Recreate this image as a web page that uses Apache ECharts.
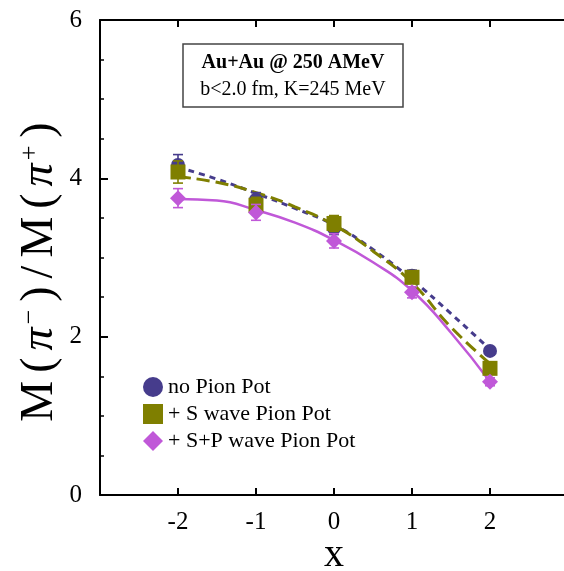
<!DOCTYPE html>
<html>
<head>
<meta charset="utf-8">
<script src="https://cdn.jsdelivr.net/npm/echarts@6/dist/echarts.min.js"></script>
<style>html,body{margin:0;padding:0;background:#fff}#c{width:564px;height:571px}</style>
</head>
<body>
<div id="c"></div>
<script>
// ---- data ----
const xs = [-2, -1, 0, 1, 2];
const noPot = [4.17, 3.73, 3.37, 2.77, 1.82];
const noPotErr = [0.13, 0.09, 0.08, 0.07, 0.05];
const sWave = [4.08, 3.66, 3.43, 2.75, 1.60];
const sWaveErr = [0.14, 0.10, 0.10, 0.08, 0.05];
const spWave = [3.75, 3.57, 3.21, 2.56, 1.43];
const spWaveErr = [0.12, 0.10, 0.09, 0.07, 0.05];

const fitX = [-2, -1.5, -1, -0.5, 0, 0.5, 1, 1.5, 2];
const noPotFit = [4.14, 3.99, 3.81, 3.62, 3.41, 3.10, 2.72, 2.29, 1.84];
const sWaveFit = [4.02, 3.95, 3.82, 3.64, 3.41, 3.08, 2.68, 2.12, 1.66];
const spWaveFit = [3.74, 3.72, 3.60, 3.44, 3.22, 2.94, 2.58, 2.05, 1.43];

const xTicks = [-2, -1, 0, 1, 2];
const yTicks = [0, 2, 4, 6];
const names = ['no Pion Pot', '+ S wave Pion Pot', '+ S+P wave Pion Pot'];

const C1 = '#463c8c', C2 = '#7f7f00', C3 = '#c058d8';
const SERIF = '"Liberation Serif", "DejaVu Serif", serif';

function pairs(x, y) { return x.map((v, i) => [v, y[i]]); }
function errData(x, y, e) { return x.map((v, i) => [v, y[i], e[i]]); }

function errSeries(data, color, z) {
  return {
    type: 'custom', silent: true, z: z,
    encode: { x: 0, y: 1 },
    data: data,
    renderItem: function (params, api) {
      const x = api.value(0), y = api.value(1), e = api.value(2);
      const t = api.coord([x, y + e]), b = api.coord([x, y - e]);
      const hw = 5, st = { stroke: color, lineWidth: 1.6 };
      return {
        type: 'group', children: [
          { type: 'line', shape: { x1: t[0], y1: t[1], x2: b[0], y2: b[1] }, style: st },
          { type: 'line', shape: { x1: t[0] - hw, y1: t[1], x2: t[0] + hw, y2: t[1] }, style: st },
          { type: 'line', shape: { x1: b[0] - hw, y1: b[1], x2: b[0] + hw, y2: b[1] }, style: st }
        ]
      };
    }
  };
}

const chart = echarts.init(document.getElementById('c'), null, { renderer: 'canvas' });
const axisLineStyle = { color: '#000', width: 2 };
const YFS = 46;

chart.setOption({
  animation: false,
  backgroundColor: '#fff',
  textStyle: { fontFamily: SERIF },
  grid: { left: 100, top: 20, width: 468, height: 475, containLabel: false, outerBoundsMode: 'none' },
  legend: {
    orient: 'vertical', left: 138, top: 371,
    itemWidth: 20, itemHeight: 20, itemGap: 5,
    textStyle: { fontFamily: SERIF, fontSize: 22, color: '#000' },
    data: [
      { name: names[0], icon: 'circle' },
      { name: names[1], icon: 'rect' },
      { name: names[2], icon: 'diamond' }
    ]
  },
  xAxis: [{
    type: 'value', min: -3, max: 3, interval: 1,
    axisLine: { onZero: false, lineStyle: axisLineStyle },
    axisTick: { inside: true, length: 7, lineStyle: { color: '#000', width: 2 } },
    axisLabel: {
      margin: 15, fontSize: 25, color: '#000', fontFamily: SERIF,
      formatter: v => (xTicks.indexOf(v) >= 0 ? String(v) : '')
    },
    splitLine: { show: false },
    name: 'x', nameLocation: 'middle', nameGap: 40, nameMoveOverlap: false,
    nameTextStyle: { fontSize: 40, color: '#000', fontFamily: SERIF }
  }, {
    type: 'value', position: 'top', min: -3, max: 3, interval: 1,
    axisLine: { onZero: false, lineStyle: axisLineStyle },
    axisTick: { inside: true, length: 7, lineStyle: { color: '#000', width: 2 } },
    axisLabel: { show: false }, splitLine: { show: false }
  }],
  yAxis: [{
    type: 'value', min: 0, max: 6, interval: 2,
    axisLine: { show: true, onZero: false, lineStyle: axisLineStyle },
    axisTick: { inside: true, length: 8, lineStyle: { color: '#000', width: 2 } },
    minorTick: { show: true, splitNumber: 4, length: 4, lineStyle: { color: '#000', width: 1.5 } },
    axisLabel: {
      margin: 18, fontSize: 25, color: '#000', fontFamily: SERIF,
      formatter: v => (yTicks.indexOf(v) >= 0 ? String(v) : '')
    },
    splitLine: { show: false }
  }, {
    type: 'value', position: 'right', min: 0, max: 6, interval: 2,
    axisLine: { show: true, onZero: false, lineStyle: axisLineStyle },
    axisTick: { show: false },
    axisLabel: { show: false }, splitLine: { show: false }
  }],
  series: [
    { type: 'line', silent: true, data: pairs(fitX, noPotFit), smooth: true, showSymbol: false, z: 2,
      lineStyle: { color: C1, width: 3, type: [6, 5] } },
    { type: 'line', silent: true, data: pairs(fitX, sWaveFit), smooth: true, showSymbol: false, z: 2,
      lineStyle: { color: C2, width: 3, type: [13, 6] } },
    { type: 'line', silent: true, data: pairs(fitX, spWaveFit), smooth: true, showSymbol: false, z: 2,
      lineStyle: { color: C3, width: 2.5 } },
    errSeries(errData(xs, noPot, noPotErr), C1, 3),
    { name: names[0], type: 'scatter', data: pairs(xs, noPot), symbol: 'circle', symbolSize: 14, z: 4,
      itemStyle: { color: C1, opacity: 1 } },
    errSeries(errData(xs, sWave, sWaveErr), C2, 5),
    { name: names[1], type: 'scatter', data: pairs(xs, sWave), symbol: 'rect', symbolSize: 15, z: 6,
      itemStyle: { color: C2, opacity: 1 } },
    errSeries(errData(xs, spWave, spWaveErr), C3, 7),
    { name: names[2], type: 'scatter', data: pairs(xs, spWave), symbol: 'diamond', symbolSize: [16, 16], z: 8,
      itemStyle: { color: C3, opacity: 1 } }
  ],
  graphic: [
    { type: 'text', x: 40, y: 272, rotation: Math.PI / 2, z: 12,
      style: {
        text: '{a|M}{a|(}{p|π}{s|−}{a|)}{a|/}{a|M}{a|(}{p|π}{s|+}{a|)}',
        align: 'center', verticalAlign: 'middle',
        rich: {
          a: { fontSize: YFS, fontFamily: SERIF, fill: '#000', padding: [0, 4] },
          p: { fontSize: YFS, fontFamily: SERIF, fontStyle: 'italic', fill: '#000', padding: [0, 3] },
          s: { fontSize: 26, fontFamily: SERIF, fill: '#000', verticalAlign: 'top', padding: [0, 4, 20, 0] }
        }
      } },
    { type: 'rect', shape: { x: 183, y: 44, width: 220, height: 63 }, z: 10,
      style: { fill: '#fff', stroke: '#444', lineWidth: 1.5 } },
    { type: 'text', x: 293, y: 63, z: 11,
      style: { text: 'Au+Au @ 250 AMeV', font: 'bold 20px ' + SERIF, fill: '#000', align: 'center', verticalAlign: 'middle' } },
    { type: 'text', x: 293, y: 90, z: 11,
      style: { text: 'b<2.0 fm, K=245 MeV', font: '20px ' + SERIF, fill: '#000', align: 'center', verticalAlign: 'middle' } }
  ]
});
</script>
</body>
</html>
